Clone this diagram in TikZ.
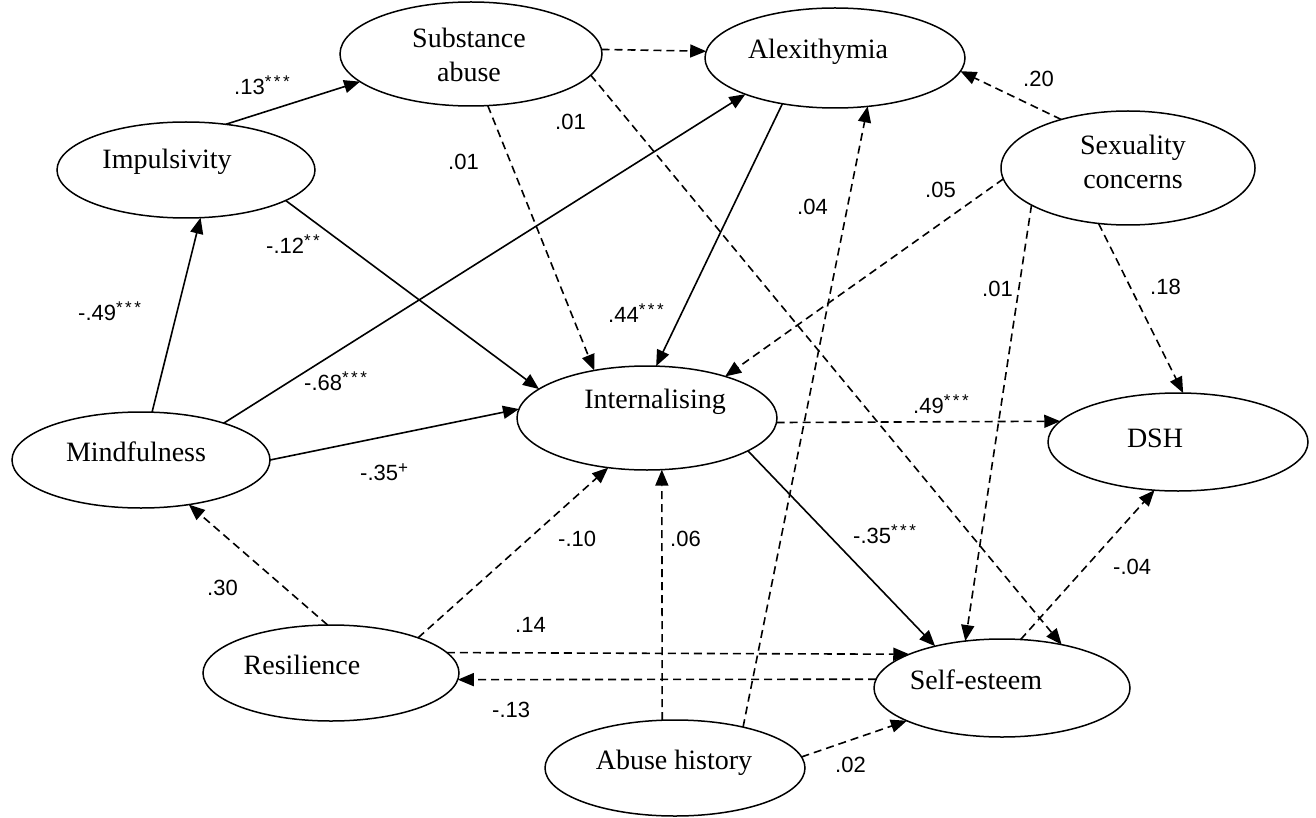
\documentclass[tikz,border=0pt]{standalone}
\usepackage{fontspec}
\setmainfont{Liberation Serif}
\newfontfamily\coeffont{Liberation Sans}
\usetikzlibrary{arrows.meta,shapes.geometric}
% significance stars set as small raised marks
\newcommand\sigmark[1]{\raisebox{7pt}{\fontsize{17}{17}\selectfont #1}}
\newcommand\threestar{\sigmark{*\kern2.5pt*\kern2.5pt*}}
\newcommand\twostar{\sigmark{*\kern2.5pt*}}

\begin{document}
\begin{tikzpicture}[x=1pt,y=-1pt,
  latent/.style 2 args={ellipse,draw,line width=1.5pt,inner sep=0pt,outer sep=0pt,
    minimum width=#1pt,minimum height=#2pt},
  vname/.style={font=\fontsize{28}{34}\selectfont,align=center,inner sep=0pt},
  coef/.style={font=\coeffont\fontsize{22}{24}\selectfont,inner sep=0pt,anchor=base west},
  path/.style={line width=1.6pt,-{Triangle[length=16pt,width=13pt]}},
  weak/.style={path,dash pattern=on 8pt off 5pt}]

\useasboundingbox (0,0) rectangle (1316,818);

% latent variables
\node[latent={262}{104}] (sa)  at (471,54)   {};
\node[latent={260}{100}] (alx) at (835,58)   {};
\node[latent={258}{96}]  (imp) at (186,170)  {};
\node[latent={254}{114}] (sex) at (1128,168) {};
\node[latent={260}{104}] (int) at (647,418)  {};
\node[latent={258}{96}]  (mnd) at (141,460)  {};
\node[latent={260}{98}]  (dsh) at (1178,442) {};
\node[latent={256}{96}]  (res) at (331,673)  {};
\node[latent={256}{98}]  (se)  at (1002,688) {};
\node[latent={260}{96}]  (ab)  at (675,768)  {};

% variable names
\node[vname] (sa-t)  at (469,55)   {Substance\\abuse};
\node[vname] (alx-t) at (818,52)   {Alexithymia};
\node[vname] (imp-t) at (167,162)  {Impulsivity};
\node[vname] (sex-t) at (1133,162) {Sexuality\\concerns};
\node[vname] (int-t) at (655,402)  {Internalising};
\node[vname] (mnd-t) at (136,452)  {Mindfulness};
\node[vname] (dsh-t) at (1155,438) {DSH};
\node[vname] (res-t) at (302,665)  {Resilience};
\node[vname] (se-t)  at (976,680)  {Self-esteem};
\node[vname] (ab-t)  at (674,763)  {Abuse history};

% significant paths
\draw[path] (imp.49.5) -- (sa.194.5);
\draw[path] (alx.-139) -- (int.80);
\draw[path] (mnd.24)   -- (alx.202);
\draw[path] (mnd.77)   -- (imp.-73.9);
\draw[path] (mnd.0)    -- (int.176);
\draw[path] (imp.-17.6) -- (int.165);
\draw[path] (int.-18)  -- (se.148.5);

% non-significant paths
\draw[weak] (sa.2)      -- (alx.177);
\draw[weak] (sa.-72.5)  -- (int.138);
\draw[weak] (sa.-10.5)  -- (se.36.4);
\draw[weak] (sex.144.8) -- (alx.-6.7);
\draw[weak] (sex.185.5) -- (int.28.5);
\draw[weak] (sex.201.6) -- (se.128.8);
\draw[weak] (sex.242.4) -- (dsh.84);
\draw[weak] (int.-2.6)  -- (dsh.170);
\draw[weak] (res.94.6)  -- (mnd.-43.9);
\draw[weak] (res.22.7)  -- (int.-128.2);
\draw[weak] (res.10.7)  -- (se.160);
\draw[weak] (se.176.8)  -- (res.-3.5);
\draw[weak] (ab.105.8)  -- (int.-74);
\draw[weak] (ab.31)     -- (alx.-56.6);
\draw[weak] (ab.5)      -- (se.199);
\draw[weak] (se.69.6)   -- (dsh.-116.6);

% path coefficients
\node[coef] (c1)  at (234,95)   {.13\threestar};
\node[coef] (c2)  at (448,170)  {.01};
\node[coef] (c3)  at (555,130)  {.01};
\node[coef] (c4)  at (608,322)  {.44\threestar};
\node[coef] (c5)  at (304,390)  {-.68\threestar};
\node[coef] (c6)  at (78,320)   {-.49\threestar};
\node[coef] (c7)  at (360,480)  {-.35\sigmark{+}};
\node[coef] (c8)  at (266,254)  {-.12\twostar};
\node[coef] (c9)  at (1023,87)  {.20};
\node[coef] (c10) at (925,198)  {.05};
\node[coef] (c11) at (982,296)  {.01};
\node[coef] (c12) at (1150,294) {.18};
\node[coef] (c13) at (913,413)  {.49\threestar};
\node[coef] (c14) at (853,543)  {-.35\threestar};
\node[coef] (c15) at (207,595)  {.30};
\node[coef] (c16) at (558,546)  {-.10};
\node[coef] (c17) at (515,632)  {.14};
\node[coef] (c18) at (492,717)  {-.13};
\node[coef] (c19) at (670,546)  {.06};
\node[coef] (c20) at (797,215)  {.04};
\node[coef] (c21) at (835,772)  {.02};
\node[coef] (c22) at (1113,574) {-.04};
\end{tikzpicture}
\end{document}
